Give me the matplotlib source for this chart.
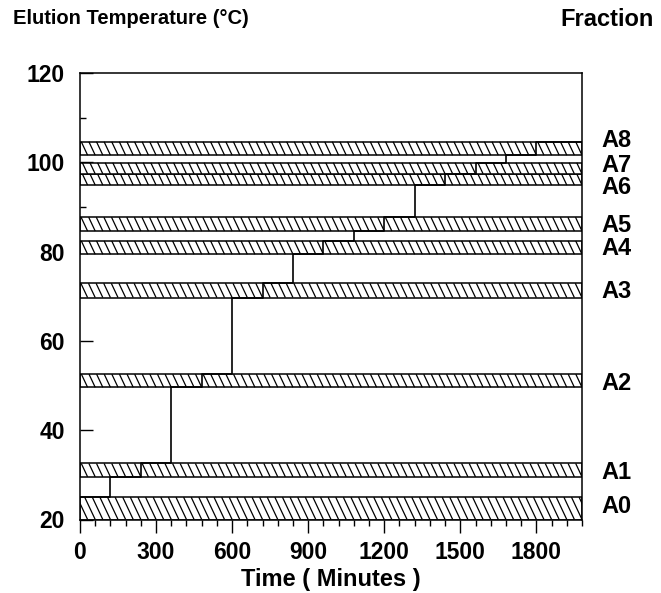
import numpy as np
import matplotlib
matplotlib.use("Agg")
import matplotlib.pyplot as plt
from matplotlib.patches import Rectangle
from matplotlib.collections import LineCollection

# fraction bands (elution temperature windows, deg C)
fractions = ["A0", "A1", "A2", "A3", "A4", "A5", "A6", "A7", "A8"]
band_low = [20.0, 29.55, 49.6, 69.7, 79.4, 84.6, 94.9, 97.4, 101.6]
band_high = [25.0, 32.55, 52.55, 72.9, 82.4, 87.7, 97.4, 99.9, 104.6]
label_temp = [23.0, 30.5, 50.4, 71.0, 80.8, 85.9, 94.4, 99.2, 104.9]

# stepwise temperature program
prog_time = [0, 120, 240, 360, 480, 600, 720, 840, 960, 1080,
             1200, 1320, 1440, 1560, 1680, 1800, 1980]
prog_temp = [25.0, 29.55, 32.55, 49.6, 52.55, 69.7, 72.9, 79.4, 82.4, 84.6,
             87.7, 94.9, 97.4, 99.9, 101.6, 104.6, 104.6]

t_end = 1980

plt.rcParams["font.family"] = ["Liberation Sans", "DejaVu Sans"]
plt.rcParams["font.weight"] = "bold"

fig = plt.figure(figsize=(6.61, 5.93), dpi=100)
ax = fig.add_axes([80 / 661, 1 - 519.5 / 593, 502 / 661, 446.5 / 593])
ax.set_axisbelow(True)


def hatch_band(ax, lo, hi, spacing=30, slant=8.3):
    rect = Rectangle((0, lo), t_end, hi - lo, facecolor="white",
                     edgecolor="black", lw=1.1, zorder=2)
    ax.add_patch(rect)
    h = hi - lo
    starts = np.arange(-slant * h, t_end + spacing, spacing)
    segs = [[(s, hi), (s + slant * h, lo)] for s in starts]
    lc = LineCollection(segs, colors="black", linewidths=0.9, zorder=2)
    lc.set_clip_path(rect)
    ax.add_collection(lc)


for lo, hi in zip(band_low, band_high):
    hatch_band(ax, lo, hi)

ax.plot(prog_time, prog_temp, drawstyle="steps-post", color="black",
        lw=1.2, zorder=3)

for name, yt in zip(fractions, label_temp):
    ax.text(1.038, yt, name, transform=ax.get_yaxis_transform(),
            ha="left", va="center", fontsize=17, fontweight="bold")

ax.set_xlim(0, t_end)
ax.set_ylim(20, 120)
ax.set_xticks(range(0, 1801, 300))
ax.set_xticks(range(0, t_end + 1, 60), minor=True)
ax.set_yticks(range(20, 121, 20))
ax.set_yticks(range(20, 121, 10), minor=True)
ax.tick_params(axis="x", which="major", direction="out", length=9.5,
               width=1.0, labelsize=16.5, pad=6)
ax.tick_params(axis="x", which="minor", direction="out", length=4.5, width=1.0)
ax.tick_params(axis="y", which="major", direction="in", length=9,
               width=1.0, labelsize=16.5, pad=11)
ax.tick_params(axis="y", which="minor", direction="in", length=4, width=1.0)
for lab in ax.get_xticklabels() + ax.get_yticklabels():
    lab.set_fontweight("bold")
for sp in ax.spines.values():
    sp.set_linewidth(1.1)

ax.set_xlabel("Time ( Minutes )", fontsize=17, fontweight="bold", labelpad=3)

fig.text(13 / 661, 1 - 19 / 593, "Elution Temperature (\u00b0C)",
         fontsize=14.5, fontweight="bold", ha="left", va="center")
fig.text(654 / 661, 1 - 19 / 593, "Fraction", fontsize=17,
         fontweight="bold", ha="right", va="center")

fig.savefig("out.png", dpi=100)
